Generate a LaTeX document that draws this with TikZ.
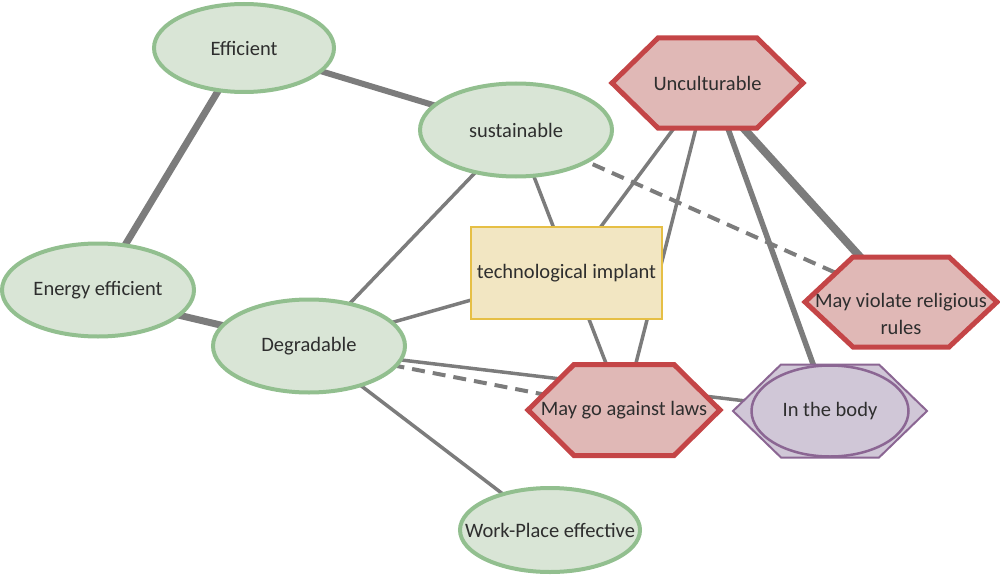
\documentclass[tikz,border=0pt]{standalone}
\usepackage{fontspec}
\setmainfont{Carlito}
\usetikzlibrary{shapes.geometric,calc}
\pgfdeclarelayer{bg}
\pgfdeclarelayer{mid}
\pgfsetlayers{bg,mid,main}
\definecolor{gfill}{HTML}{D9E5D6}
\definecolor{gstroke}{HTML}{92BF8F}
\definecolor{rfill}{HTML}{E0B8B6}
\definecolor{rstroke}{HTML}{C44547}
\definecolor{yfill}{HTML}{F2E6C2}
\definecolor{ystroke}{HTML}{E6BF45}
\definecolor{pfill}{HTML}{D0C7D7}
\definecolor{pstroke}{HTML}{8B6693}
\definecolor{egray}{HTML}{7C7C7C}
\definecolor{txtc}{HTML}{2E2E2E}
\newcommand\hexat[3]{\draw[#3] (#1.west) -- ([xshift=#2]#1.north west) -- ([xshift=-#2]#1.north east) -- (#1.east) -- ([xshift=-#2]#1.south east) -- ([xshift=#2]#1.south west) -- cycle;}
\begin{document}
\begin{tikzpicture}[x=1pt,y=-1pt,
  txt/.style={text=txtc, font=\fontsize{20.5}{27}\selectfont, inner sep=0pt},
  gell/.style={ellipse, draw=gstroke, fill=gfill, line width=4pt, inner sep=0pt, outer sep=0pt},
  implbox/.style={rectangle, draw=ystroke, fill=yfill, line width=2.5pt, inner sep=0pt, minimum width=191pt, minimum height=92pt, txt},
  hexbox/.style={rectangle, draw=none, inner sep=0pt, outer sep=0pt, txt},
  hexred/.style={draw=rstroke, fill=rfill, line width=5pt, line join=miter},
  hexpurple/.style={draw=pstroke, fill=pfill, line width=2pt},
  pell/.style={ellipse, draw=pstroke, fill=pfill, line width=2.5pt, inner sep=0pt},
  edge/.style={draw=egray, line width=3.5pt},
  edgethick/.style={draw=egray, line width=6.5pt},
  edgedash/.style={draw=egray, line width=4pt, dash pattern=on 13pt off 8pt}]
\useasboundingbox (0,0) rectangle (1000,583);

% ellipses
\node[gell, minimum width=180pt, minimum height=88pt, label={[txt]center:Efficient}] (eff) at (244,48) {};
\node[gell, minimum width=192pt, minimum height=93pt, label={[txt]center:sustainable}] (sus) at (516,130) {};
\node[gell, minimum width=192pt, minimum height=93pt, label={[txt]center:Energy efficient}] (ene) at (98,290) {};
\node[gell, minimum width=192pt, minimum height=93pt, label={[txt]center:Degradable}] (deg) at (309,346) {};
\node[gell, minimum width=180pt, minimum height=84pt, label={[txt]center:Work-Place effective}] (wpe) at (550,530) {};

% rectangle
\node[implbox] (imp) at (566.5,273) {technological implant};

% hexagons
\node[hexbox, minimum width=191pt, minimum height=90pt] (unc) at (707.5,83) {Unculturable};
\node[hexbox, minimum width=192pt, minimum height=90pt] (rel) at (901,302) {};
\node[txt, align=center] (reltxt) at (901,314) {May violate religious\\rules};
\node[hexbox, minimum width=192pt, minimum height=91pt] (law) at (624,410) {May go against laws};
\node[hexbox, minimum width=194pt, minimum height=93pt] (bodyhex) at (830,411) {};
\node[pell, minimum width=157pt, minimum height=91pt, label={[txt]center:In the body}] (body) at (830,411) {};

\begin{pgfonlayer}{mid}
\hexat{unc}{46pt}{hexred}
\hexat{rel}{48pt}{hexred}
\hexat{law}{46pt}{hexred}
\hexat{bodyhex}{48pt}{hexpurple}
\end{pgfonlayer}

\begin{pgfonlayer}{bg}
\draw[edgethick, line width=6pt] (eff.center) -- (sus.center);
\draw[edgethick, line width=7pt] (eff.center) -- (ene.center);
\draw[edgethick, line width=7pt] ([yshift=-6pt]ene.center) -- (deg.center);
\draw[edge] (sus.center) -- (deg.center);
\draw[edge] (sus.center) -- (law.center);
\draw[edgedash] (sus.center) -- (rel.center);
\draw[edge] (deg.center) -- (imp.center);
\draw[edge] ([yshift=-3pt]deg.center) -- (body.center);
\draw[edgedash] ([yshift=-3pt]deg.center) -- (law.center);
\draw[edge] (deg.center) -- (wpe.center);
\draw[edge] (unc.center) -- (imp.center);
\draw[edge] (unc.center) -- (law.center);
\draw[edgethick, line width=8pt] ([xshift=-5pt]unc.center) -- (rel.center);
\draw[edgethick, line width=5.5pt] ([xshift=4pt]unc.center) -- (body.center);
\end{pgfonlayer}
\end{tikzpicture}
\end{document}
